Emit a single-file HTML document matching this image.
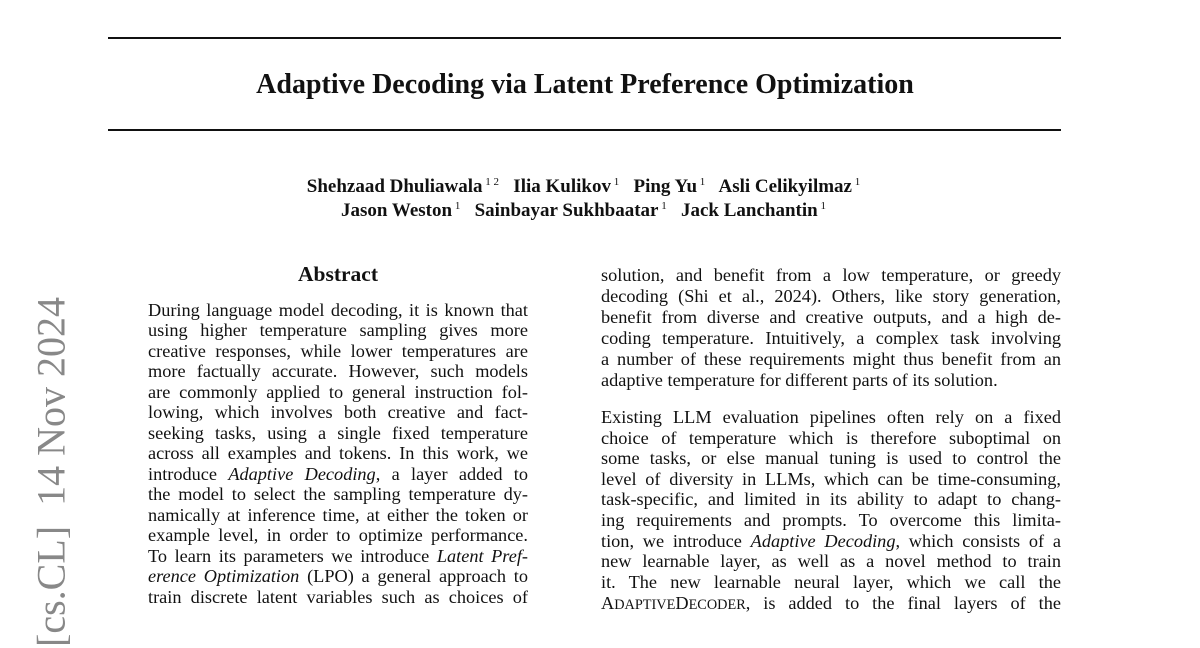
<!DOCTYPE html>
<html><head><meta charset="utf-8"><style>
body{margin:0;width:1200px;height:648px;background:#fff;overflow:hidden;position:relative;font-family:"Liberation Serif",serif;color:#111}
.rule{position:absolute;left:108px;width:953px;height:2px;background:#111}
.c{position:absolute;text-align:center;white-space:nowrap}
.l{position:absolute;font-size:18.3px;line-height:20px;height:20px;text-align:justify;text-align-last:justify;white-space:nowrap;overflow:visible}
.L{left:148px;width:380px}
.R{left:601px;width:460px}
.last{text-align-last:left}
sup{font-size:11px;font-weight:normal;vertical-align:7px;line-height:0}
.side{position:absolute;left:51px;top:472px;transform:translate(-50%,-50%) rotate(-90deg);font-size:40px;color:#888;white-space:nowrap}
.sc{font-size:14.3px}
</style></head><body>
<div class="rule" style="top:37px"></div>
<div class="c" style="left:0;width:1170px;top:69px;font-size:28px;font-weight:bold">Adaptive Decoding via Latent Preference Optimization</div>
<div class="rule" style="top:129px"></div>
<div class="c" style="left:0;width:1167px;top:176px;font-size:19px;font-weight:bold">Shehzaad Dhuliawala<sup> 1 2</sup> &nbsp; Ilia Kulikov<sup> 1</sup> &nbsp; Ping Yu<sup> 1</sup> &nbsp; Asli Celikyilmaz<sup> 1</sup></div>
<div class="c" style="left:0;width:1167px;top:200px;font-size:19px;font-weight:bold">Jason Weston<sup> 1</sup> &nbsp; Sainbayar Sukhbaatar<sup> 1</sup> &nbsp; Jack Lanchantin<sup> 1</sup></div>
<div class="c" style="left:148px;width:380px;top:262px;font-size:21.5px;font-weight:bold">Abstract</div>
<div class="side">[cs.CL] &nbsp;14 Nov 2024</div>

<div class="l L" style="top:300px">During language model decoding, it is known that</div>
<div class="l L" style="top:320px">using higher temperature sampling gives more</div>
<div class="l L" style="top:341px">creative responses, while lower temperatures are</div>
<div class="l L" style="top:361px">more factually accurate. However, such models</div>
<div class="l L" style="top:382px">are commonly applied to general instruction fol-</div>
<div class="l L" style="top:402px">lowing, which involves both creative and fact-</div>
<div class="l L" style="top:423px">seeking tasks, using a single fixed temperature</div>
<div class="l L" style="top:443px">across all examples and tokens. In this work, we</div>
<div class="l L" style="top:464px">introduce <i>Adaptive Decoding</i>, a layer added to</div>
<div class="l L" style="top:484px">the model to select the sampling temperature dy-</div>
<div class="l L" style="top:505px">namically at inference time, at either the token or</div>
<div class="l L" style="top:525px">example level, in order to optimize performance.</div>
<div class="l L" style="top:546px">To learn its parameters we introduce <i>Latent Pref-</i></div>
<div class="l L" style="top:566px"><i>erence Optimization</i> (LPO) a general approach to</div>
<div class="l L" style="top:587px">train discrete latent variables such as choices of</div>

<div class="l R" style="top:265px">solution, and benefit from a low temperature, or greedy</div>
<div class="l R" style="top:286px">decoding (Shi et al., 2024). Others, like story generation,</div>
<div class="l R" style="top:307px">benefit from diverse and creative outputs, and a high de-</div>
<div class="l R" style="top:328px">coding temperature. Intuitively, a complex task involving</div>
<div class="l R" style="top:349px">a number of these requirements might thus benefit from an</div>
<div class="l R last" style="top:370px">adaptive temperature for different parts of its solution.</div>
<div class="l R" style="top:407px">Existing LLM evaluation pipelines often rely on a fixed</div>
<div class="l R" style="top:428px">choice of temperature which is therefore suboptimal on</div>
<div class="l R" style="top:448px">some tasks, or else manual tuning is used to control the</div>
<div class="l R" style="top:469px">level of diversity in LLMs, which can be time-consuming,</div>
<div class="l R" style="top:489px">task-specific, and limited in its ability to adapt to chang-</div>
<div class="l R" style="top:510px">ing requirements and prompts. To overcome this limita-</div>
<div class="l R" style="top:531px">tion, we introduce <i>Adaptive Decoding</i>, which consists of a</div>
<div class="l R" style="top:551px">new learnable layer, as well as a novel method to train</div>
<div class="l R" style="top:572px">it. The new learnable neural layer, which we call the</div>
<div class="l R" style="top:593px">A<span class="sc">DAPTIVE</span>D<span class="sc">ECODER</span>, is added to the final layers of the</div>
</body></html>
